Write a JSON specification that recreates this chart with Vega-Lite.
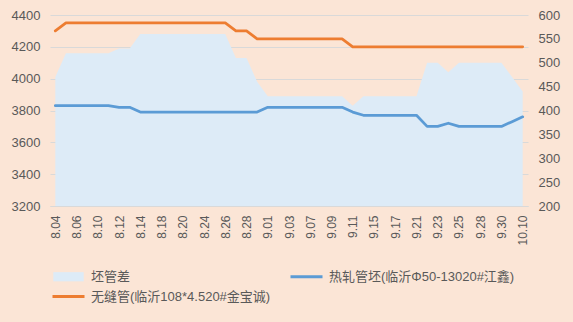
{
  "$schema": "https://vega.github.io/schema/vega-lite/v6.json",
  "width": 478,
  "height": 191,
  "autosize": {"type": "none"},
  "padding": {"left": 50, "top": 15, "right": 45, "bottom": 116},
  "background": "#FBE5D6",
  "config": {
    "view": {"stroke": null},
    "font": "Liberation Sans, Noto Sans CJK SC",
    "axis": {"labelColor": "#595959", "labelFont": "Liberation Sans, Noto Sans CJK SC", "titleColor": "#595959"}
  },
  "data": {
    "values": [
      {"date": "8.04", "series": "坯管差", "value": 470},
      {"date": "8.05", "series": "坯管差", "value": 520},
      {"date": "8.06", "series": "坯管差", "value": 520},
      {"date": "8.09", "series": "坯管差", "value": 520},
      {"date": "8.10", "series": "坯管差", "value": 520},
      {"date": "8.11", "series": "坯管差", "value": 520},
      {"date": "8.12", "series": "坯管差", "value": 530},
      {"date": "8.13", "series": "坯管差", "value": 530},
      {"date": "8.14", "series": "坯管差", "value": 560},
      {"date": "8.17", "series": "坯管差", "value": 560},
      {"date": "8.18", "series": "坯管差", "value": 560},
      {"date": "8.19", "series": "坯管差", "value": 560},
      {"date": "8.20", "series": "坯管差", "value": 560},
      {"date": "8.23", "series": "坯管差", "value": 560},
      {"date": "8.24", "series": "坯管差", "value": 560},
      {"date": "8.25", "series": "坯管差", "value": 560},
      {"date": "8.26", "series": "坯管差", "value": 560},
      {"date": "8.27", "series": "坯管差", "value": 510},
      {"date": "8.28", "series": "坯管差", "value": 510},
      {"date": "8.31", "series": "坯管差", "value": 460},
      {"date": "9.01", "series": "坯管差", "value": 430},
      {"date": "9.02", "series": "坯管差", "value": 430},
      {"date": "9.03", "series": "坯管差", "value": 430},
      {"date": "9.06", "series": "坯管差", "value": 430},
      {"date": "9.07", "series": "坯管差", "value": 430},
      {"date": "9.08", "series": "坯管差", "value": 430},
      {"date": "9.09", "series": "坯管差", "value": 430},
      {"date": "9.10", "series": "坯管差", "value": 430},
      {"date": "9.11", "series": "坯管差", "value": 410},
      {"date": "9.14", "series": "坯管差", "value": 430},
      {"date": "9.15", "series": "坯管差", "value": 430},
      {"date": "9.16", "series": "坯管差", "value": 430},
      {"date": "9.17", "series": "坯管差", "value": 430},
      {"date": "9.18", "series": "坯管差", "value": 430},
      {"date": "9.21", "series": "坯管差", "value": 430},
      {"date": "9.22", "series": "坯管差", "value": 500},
      {"date": "9.23", "series": "坯管差", "value": 500},
      {"date": "9.24", "series": "坯管差", "value": 480},
      {"date": "9.25", "series": "坯管差", "value": 500},
      {"date": "9.26", "series": "坯管差", "value": 500},
      {"date": "9.28", "series": "坯管差", "value": 500},
      {"date": "9.29", "series": "坯管差", "value": 500},
      {"date": "9.30", "series": "坯管差", "value": 500},
      {"date": "10.08", "series": "坯管差", "value": 470},
      {"date": "10.10", "series": "坯管差", "value": 440},

      {"date": "8.04", "series": "热轧管坯(临沂Φ50-13020#江鑫)", "value": 3830},
      {"date": "8.05", "series": "热轧管坯(临沂Φ50-13020#江鑫)", "value": 3830},
      {"date": "8.06", "series": "热轧管坯(临沂Φ50-13020#江鑫)", "value": 3830},
      {"date": "8.09", "series": "热轧管坯(临沂Φ50-13020#江鑫)", "value": 3830},
      {"date": "8.10", "series": "热轧管坯(临沂Φ50-13020#江鑫)", "value": 3830},
      {"date": "8.11", "series": "热轧管坯(临沂Φ50-13020#江鑫)", "value": 3830},
      {"date": "8.12", "series": "热轧管坯(临沂Φ50-13020#江鑫)", "value": 3820},
      {"date": "8.13", "series": "热轧管坯(临沂Φ50-13020#江鑫)", "value": 3820},
      {"date": "8.14", "series": "热轧管坯(临沂Φ50-13020#江鑫)", "value": 3790},
      {"date": "8.17", "series": "热轧管坯(临沂Φ50-13020#江鑫)", "value": 3790},
      {"date": "8.18", "series": "热轧管坯(临沂Φ50-13020#江鑫)", "value": 3790},
      {"date": "8.19", "series": "热轧管坯(临沂Φ50-13020#江鑫)", "value": 3790},
      {"date": "8.20", "series": "热轧管坯(临沂Φ50-13020#江鑫)", "value": 3790},
      {"date": "8.23", "series": "热轧管坯(临沂Φ50-13020#江鑫)", "value": 3790},
      {"date": "8.24", "series": "热轧管坯(临沂Φ50-13020#江鑫)", "value": 3790},
      {"date": "8.25", "series": "热轧管坯(临沂Φ50-13020#江鑫)", "value": 3790},
      {"date": "8.26", "series": "热轧管坯(临沂Φ50-13020#江鑫)", "value": 3790},
      {"date": "8.27", "series": "热轧管坯(临沂Φ50-13020#江鑫)", "value": 3790},
      {"date": "8.28", "series": "热轧管坯(临沂Φ50-13020#江鑫)", "value": 3790},
      {"date": "8.31", "series": "热轧管坯(临沂Φ50-13020#江鑫)", "value": 3790},
      {"date": "9.01", "series": "热轧管坯(临沂Φ50-13020#江鑫)", "value": 3820},
      {"date": "9.02", "series": "热轧管坯(临沂Φ50-13020#江鑫)", "value": 3820},
      {"date": "9.03", "series": "热轧管坯(临沂Φ50-13020#江鑫)", "value": 3820},
      {"date": "9.06", "series": "热轧管坯(临沂Φ50-13020#江鑫)", "value": 3820},
      {"date": "9.07", "series": "热轧管坯(临沂Φ50-13020#江鑫)", "value": 3820},
      {"date": "9.08", "series": "热轧管坯(临沂Φ50-13020#江鑫)", "value": 3820},
      {"date": "9.09", "series": "热轧管坯(临沂Φ50-13020#江鑫)", "value": 3820},
      {"date": "9.10", "series": "热轧管坯(临沂Φ50-13020#江鑫)", "value": 3820},
      {"date": "9.11", "series": "热轧管坯(临沂Φ50-13020#江鑫)", "value": 3790},
      {"date": "9.14", "series": "热轧管坯(临沂Φ50-13020#江鑫)", "value": 3770},
      {"date": "9.15", "series": "热轧管坯(临沂Φ50-13020#江鑫)", "value": 3770},
      {"date": "9.16", "series": "热轧管坯(临沂Φ50-13020#江鑫)", "value": 3770},
      {"date": "9.17", "series": "热轧管坯(临沂Φ50-13020#江鑫)", "value": 3770},
      {"date": "9.18", "series": "热轧管坯(临沂Φ50-13020#江鑫)", "value": 3770},
      {"date": "9.21", "series": "热轧管坯(临沂Φ50-13020#江鑫)", "value": 3770},
      {"date": "9.22", "series": "热轧管坯(临沂Φ50-13020#江鑫)", "value": 3700},
      {"date": "9.23", "series": "热轧管坯(临沂Φ50-13020#江鑫)", "value": 3700},
      {"date": "9.24", "series": "热轧管坯(临沂Φ50-13020#江鑫)", "value": 3720},
      {"date": "9.25", "series": "热轧管坯(临沂Φ50-13020#江鑫)", "value": 3700},
      {"date": "9.26", "series": "热轧管坯(临沂Φ50-13020#江鑫)", "value": 3700},
      {"date": "9.28", "series": "热轧管坯(临沂Φ50-13020#江鑫)", "value": 3700},
      {"date": "9.29", "series": "热轧管坯(临沂Φ50-13020#江鑫)", "value": 3700},
      {"date": "9.30", "series": "热轧管坯(临沂Φ50-13020#江鑫)", "value": 3700},
      {"date": "10.08", "series": "热轧管坯(临沂Φ50-13020#江鑫)", "value": 3730},
      {"date": "10.10", "series": "热轧管坯(临沂Φ50-13020#江鑫)", "value": 3760},

      {"date": "8.04", "series": "无缝管(临沂108*4.520#金宝诚)", "value": 4300},
      {"date": "8.05", "series": "无缝管(临沂108*4.520#金宝诚)", "value": 4350},
      {"date": "8.06", "series": "无缝管(临沂108*4.520#金宝诚)", "value": 4350},
      {"date": "8.09", "series": "无缝管(临沂108*4.520#金宝诚)", "value": 4350},
      {"date": "8.10", "series": "无缝管(临沂108*4.520#金宝诚)", "value": 4350},
      {"date": "8.11", "series": "无缝管(临沂108*4.520#金宝诚)", "value": 4350},
      {"date": "8.12", "series": "无缝管(临沂108*4.520#金宝诚)", "value": 4350},
      {"date": "8.13", "series": "无缝管(临沂108*4.520#金宝诚)", "value": 4350},
      {"date": "8.14", "series": "无缝管(临沂108*4.520#金宝诚)", "value": 4350},
      {"date": "8.17", "series": "无缝管(临沂108*4.520#金宝诚)", "value": 4350},
      {"date": "8.18", "series": "无缝管(临沂108*4.520#金宝诚)", "value": 4350},
      {"date": "8.19", "series": "无缝管(临沂108*4.520#金宝诚)", "value": 4350},
      {"date": "8.20", "series": "无缝管(临沂108*4.520#金宝诚)", "value": 4350},
      {"date": "8.23", "series": "无缝管(临沂108*4.520#金宝诚)", "value": 4350},
      {"date": "8.24", "series": "无缝管(临沂108*4.520#金宝诚)", "value": 4350},
      {"date": "8.25", "series": "无缝管(临沂108*4.520#金宝诚)", "value": 4350},
      {"date": "8.26", "series": "无缝管(临沂108*4.520#金宝诚)", "value": 4350},
      {"date": "8.27", "series": "无缝管(临沂108*4.520#金宝诚)", "value": 4300},
      {"date": "8.28", "series": "无缝管(临沂108*4.520#金宝诚)", "value": 4300},
      {"date": "8.31", "series": "无缝管(临沂108*4.520#金宝诚)", "value": 4250},
      {"date": "9.01", "series": "无缝管(临沂108*4.520#金宝诚)", "value": 4250},
      {"date": "9.02", "series": "无缝管(临沂108*4.520#金宝诚)", "value": 4250},
      {"date": "9.03", "series": "无缝管(临沂108*4.520#金宝诚)", "value": 4250},
      {"date": "9.06", "series": "无缝管(临沂108*4.520#金宝诚)", "value": 4250},
      {"date": "9.07", "series": "无缝管(临沂108*4.520#金宝诚)", "value": 4250},
      {"date": "9.08", "series": "无缝管(临沂108*4.520#金宝诚)", "value": 4250},
      {"date": "9.09", "series": "无缝管(临沂108*4.520#金宝诚)", "value": 4250},
      {"date": "9.10", "series": "无缝管(临沂108*4.520#金宝诚)", "value": 4250},
      {"date": "9.11", "series": "无缝管(临沂108*4.520#金宝诚)", "value": 4200},
      {"date": "9.14", "series": "无缝管(临沂108*4.520#金宝诚)", "value": 4200},
      {"date": "9.15", "series": "无缝管(临沂108*4.520#金宝诚)", "value": 4200},
      {"date": "9.16", "series": "无缝管(临沂108*4.520#金宝诚)", "value": 4200},
      {"date": "9.17", "series": "无缝管(临沂108*4.520#金宝诚)", "value": 4200},
      {"date": "9.18", "series": "无缝管(临沂108*4.520#金宝诚)", "value": 4200},
      {"date": "9.21", "series": "无缝管(临沂108*4.520#金宝诚)", "value": 4200},
      {"date": "9.22", "series": "无缝管(临沂108*4.520#金宝诚)", "value": 4200},
      {"date": "9.23", "series": "无缝管(临沂108*4.520#金宝诚)", "value": 4200},
      {"date": "9.24", "series": "无缝管(临沂108*4.520#金宝诚)", "value": 4200},
      {"date": "9.25", "series": "无缝管(临沂108*4.520#金宝诚)", "value": 4200},
      {"date": "9.26", "series": "无缝管(临沂108*4.520#金宝诚)", "value": 4200},
      {"date": "9.28", "series": "无缝管(临沂108*4.520#金宝诚)", "value": 4200},
      {"date": "9.29", "series": "无缝管(临沂108*4.520#金宝诚)", "value": 4200},
      {"date": "9.30", "series": "无缝管(临沂108*4.520#金宝诚)", "value": 4200},
      {"date": "10.08", "series": "无缝管(临沂108*4.520#金宝诚)", "value": 4200},
      {"date": "10.10", "series": "无缝管(临沂108*4.520#金宝诚)", "value": 4200}
    ]
  },
  "encoding": {
    "x": {
      "field": "date",
      "type": "ordinal",
      "sort": null,
      "title": null,
      "scale": {
        "type": "point",
        "padding": 0.5,
        "domain": ["8.04","8.05","8.06","8.09","8.10","8.11","8.12","8.13","8.14","8.17","8.18","8.19","8.20","8.23","8.24","8.25","8.26","8.27","8.28","8.31","9.01","9.02","9.03","9.06","9.07","9.08","9.09","9.10","9.11","9.14","9.15","9.16","9.17","9.18","9.21","9.22","9.23","9.24","9.25","9.26","9.28","9.29","9.30","10.08","10.10"]
      },
      "axis": {
        "values": ["8.04","8.06","8.10","8.12","8.14","8.18","8.20","8.24","8.26","8.28","9.01","9.03","9.07","9.09","9.11","9.15","9.17","9.21","9.23","9.25","9.28","9.30","10.10"],
        "labelAngle": 270,
        "labelFontSize": 12,
        "labelPadding": 9,
        "labelOverlap": false,
        "labelBound": false,
        "labelFlush": false,
        "ticks": false,
        "domain": true,
        "domainColor": "#D9D9D9",
        "grid": false
      }
    }
  },
  "layer": [
    {
      "transform": [{"filter": "datum.series === '坯管差'"}],
      "mark": {"type": "area", "opacity": 1},
      "encoding": {
        "y": {
          "field": "value",
          "type": "quantitative",
          "title": null,
          "scale": {"domain": [200, 600], "nice": false, "zero": false},
          "axis": {
            "orient": "right",
            "values": [200, 250, 300, 350, 400, 450, 500, 550, 600],
            "grid": false,
            "ticks": false,
            "domain": false,
            "labelFontSize": 13,
            "labelPadding": 10
          }
        },
        "y2": {"datum": 200},
        "color": {"field": "series", "type": "nominal"}
      }
    },
    {
      "transform": [{"filter": "datum.series !== '坯管差'"}],
      "mark": {"type": "line", "strokeWidth": 2.75, "strokeCap": "round", "strokeJoin": "round"},
      "encoding": {
        "y": {
          "field": "value",
          "type": "quantitative",
          "title": null,
          "scale": {"domain": [3200, 4400], "nice": false, "zero": false},
          "axis": {
            "orient": "left",
            "values": [3200, 3400, 3600, 3800, 4000, 4200, 4400],
            "format": "d",
            "grid": true,
            "gridColor": "#D9D9D9",
            "ticks": false,
            "domain": false,
            "labelFontSize": 13,
            "labelPadding": 10
          }
        },
        "color": {
          "field": "series",
          "type": "nominal",
          "scale": {
            "domain": ["坯管差", "热轧管坯(临沂Φ50-13020#江鑫)", "无缝管(临沂108*4.520#金宝诚)"],
            "range": ["#DDEBF7", "#5B9BD5", "#ED7D31"]
          },
          "legend": {
            "title": null,
            "orient": "none",
            "legendX": 0,
            "legendY": 255,
            "direction": "horizontal",
            "columns": 2,
            "columnPadding": 13,
            "rowPadding": 6,
            "labelFontSize": 13,
            "labelColor": "#595959",
            "labelLimit": 400,
            "labelOffset": 16,
            "symbolOffset": 12,
            "symbolSize": 1000,
            "encode": {
              "symbols": {
                "update": {
                  "size": {"value": 64},
                  "shape": {"signal": "datum.value === '坯管差' ? 'M-3.8,-1.15L3.8,-1.15L3.8,1.15L-3.8,1.15Z' : 'M-4,0L4,0'"},
                  "fill": {"signal": "datum.value === '坯管差' ? '#DDEBF7' : 'transparent'"},
                  "stroke": {"signal": "datum.value === '坯管差' ? 'transparent' : (indexof(datum.value, '无缝') >= 0 ? '#ED7D31' : '#5B9BD5')"},
                  "strokeWidth": {"signal": "datum.value === '坯管差' ? 0 : 3"},
                  "opacity": {"value": 1}
                }
              }
            }
          }
        }
      }
    }
  ],
  "resolve": {"scale": {"y": "independent"}}
}
